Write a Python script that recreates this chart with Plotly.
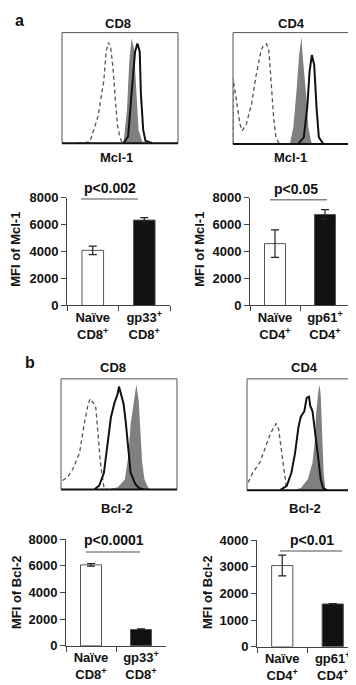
import plotly.graph_objects as go

# ---------------- data ----------------
# flow-cytometry histograms (x: % of axis width, y: % of axis height)
a_cd8_iso_x = [14, 24, 31, 36, 38, 40, 42, 44, 46, 48, 50, 52]
a_cd8_iso_y = [0, 1, 24, 56, 83, 91, 86, 68, 39, 15, 5, 0]
a_cd8_naive_x = [53, 56, 58, 60, 62, 64, 66, 69, 71]
a_cd8_naive_y = [0, 30, 74, 95, 86, 45, 12, 2, 0]
a_cd8_gp_x = [53, 57, 60, 63, 65, 67, 68, 70, 72, 78]
a_cd8_gp_y = [0, 6, 45, 83, 90, 83, 45, 12, 2, 0]

a_cd4_iso_x = [0, 0, 3, 6, 8, 11.5, 16, 20, 24, 26, 29, 31, 33, 35, 37, 40]
a_cd4_iso_y = [0, 59, 39, 18, 12, 18, 36, 62, 83, 88, 90, 83, 54, 24, 6, 0]
a_cd4_naive_x = [49, 52, 55, 57, 59, 60, 63, 65, 67.5, 69]
a_cd4_naive_y = [0, 15, 51, 80, 96, 80, 45, 15, 2, 0]
a_cd4_gp_x = [56, 61, 64, 66, 68, 70, 72, 74, 78]
a_cd4_gp_y = [0, 6, 33, 65, 80, 71, 33, 6, 0]

b_cd8_iso_x = [1.4, 5.7, 10, 16, 20, 23, 25, 28, 30, 32, 34, 36, 37, 40]
b_cd8_iso_y = [8, 11, 18, 33, 59, 75, 82, 78, 74, 51, 24, 9, 2, 0]
b_cd8_gp_x = [29, 33, 37, 40, 43, 46, 49, 50, 52, 54, 56, 58, 60, 64, 67.5, 72]
b_cd8_gp_y = [0, 3.5, 15, 39, 65, 78, 87, 93, 86, 77, 59, 33, 15, 5, 1, 0]
b_cd8_naive_x = [40, 49, 55, 58, 60, 63, 65, 67, 68.4, 70, 72, 75, 77]
b_cd8_naive_y = [0, 2, 9, 30, 59, 80, 95, 80, 51, 24, 9, 2, 0]

b_cd4_iso_x = [1, 5, 11, 15, 19, 22, 25, 27, 29, 31, 32.5, 34]
b_cd4_iso_y = [7, 16, 25, 37, 48, 55, 60, 55, 39, 25, 10, 0]
b_cd4_gp_x = [28, 34, 38, 41, 44, 46, 49, 51, 53, 54, 56, 59, 61, 63, 65, 69]
b_cd4_gp_y = [0, 4, 16, 33, 57, 66, 71, 83, 84, 76, 71, 48, 28, 10, 2, 0]
b_cd4_naive_x = [39, 46, 52, 56, 58, 59, 61, 62, 63, 64, 65.5, 67, 68]
b_cd4_naive_y = [0, 2, 10, 25, 45, 68, 89, 95, 86, 54, 16, 1, 0]

# bar charts
cats_cd8 = ["Naïve<br>CD8<sup>+</sup>", "gp33<sup>+</sup><br>CD8<sup>+</sup>"]
cats_cd4 = ["Naïve<br>CD4<sup>+</sup>", "gp61<sup>+</sup><br>CD4<sup>+</sup>"]
mcl1_cd8 = [4100, 6350]
mcl1_cd8_err = [320, 180]
mcl1_cd4 = [4600, 6770]
mcl1_cd4_err = [1020, 360]
bcl2_cd8 = [6080, 1230]
bcl2_cd8_err = [100, 40]
bcl2_cd4 = [3050, 1610]
bcl2_cd4_err = [390, 15]
pvals = ["p<0.002", "p<0.05", "p<0.0001", "p<0.01"]

# ---------------- layout helpers ----------------
W, H = 356, 685
FONT = "Liberation Sans, Arial, Helvetica, sans-serif"


def fx(p):
    return p / W


def fy(p):
    return 1 - p / H


fig = go.Figure()
shapes = []
annotations = []
layout = {}

hist_panels = [
    # (x0, x1, y0(top), y1(bottom)), iso, naive(gray), gp(black), right border
    ((54, 170, 18, 131), (a_cd8_iso_x, a_cd8_iso_y), (a_cd8_naive_x, a_cd8_naive_y), (a_cd8_gp_x, a_cd8_gp_y), True),
    ((225, 341, 18, 132), (a_cd4_iso_x, a_cd4_iso_y), (a_cd4_naive_x, a_cd4_naive_y), (a_cd4_gp_x, a_cd4_gp_y), True),
    ((53, 169, 372, 485), (b_cd8_iso_x, b_cd8_iso_y), (b_cd8_naive_x, b_cd8_naive_y), (b_cd8_gp_x, b_cd8_gp_y), True),
    ((239, 356, 372, 486), (b_cd4_iso_x, b_cd4_iso_y), (b_cd4_naive_x, b_cd4_naive_y), (b_cd4_gp_x, b_cd4_gp_y), False),
]

for i, (box, iso, naive, gp, rb) in enumerate(hist_panels, start=1):
    x0, x1, yt, yb = box
    xa = "x" if i == 1 else f"x{i}"
    ya = "y" if i == 1 else f"y{i}"
    layout["xaxis" if i == 1 else f"xaxis{i}"] = dict(
        domain=[fx(x0), fx(x1)], range=[0, 100], visible=False, anchor=ya)
    layout["yaxis" if i == 1 else f"yaxis{i}"] = dict(
        domain=[fy(yb), fy(yt)], range=[0, 100], visible=False, anchor=xa)
    fig.add_trace(go.Scatter(x=naive[0], y=naive[1], mode="lines", fill="tozeroy",
                             fillcolor="#808080", line=dict(width=0, color="#808080"),
                             xaxis=xa, yaxis=ya, hoverinfo="skip", showlegend=False))
    fig.add_trace(go.Scatter(x=iso[0], y=iso[1], mode="lines",
                             line=dict(width=1.3, color="#555", dash="4px,3px"),
                             xaxis=xa, yaxis=ya, hoverinfo="skip", showlegend=False))
    fig.add_trace(go.Scatter(x=gp[0], y=gp[1], mode="lines",
                             line=dict(width=2, color="#111"),
                             xaxis=xa, yaxis=ya, hoverinfo="skip", showlegend=False))
    # borders
    shapes.append(dict(type="line", xref="paper", yref="paper", x0=fx(x0), x1=fx(x1),
                       y0=fy(yt), y1=fy(yt), line=dict(color="#555", width=1)))
    shapes.append(dict(type="line", xref="paper", yref="paper", x0=fx(x0), x1=fx(x0),
                       y0=fy(yt), y1=fy(yb), line=dict(color="#555", width=1)))
    if rb:
        shapes.append(dict(type="line", xref="paper", yref="paper", x0=fx(x1), x1=fx(x1),
                           y0=fy(yt), y1=fy(yb), line=dict(color="#555", width=1)))
    shapes.append(dict(type="line", xref="paper", yref="paper", x0=fx(x0), x1=fx(x1),
                       y0=fy(yb), y1=fy(yb), line=dict(color="#111", width=2)))

bar_panels = [
    # box (x0, x1, ytop, ybottom), cats, vals, errs, ymax, dtick, ytitle, title x, p text, p line
    ((59, 162, 187, 297), cats_cd8, mcl1_cd8, mcl1_cd8_err, 8000, 2000, "MFI of Mcl-1", 8, 240,
     pvals[0], (102, 177), (73, 130, 188)),
    ((242, 342, 187, 297), cats_cd4, mcl1_cd4, mcl1_cd4_err, 8000, 2000, "MFI of Mcl-1", 192, 240,
     pvals[1], (288, 178), (262, 319, 189)),
    ((58, 158, 536, 645), cats_cd8, bcl2_cd8, bcl2_cd8_err, 8000, 2000, "MFI of Bcl-2", 8, 590,
     pvals[2], (106, 537), (78, 132, 549)),
    ((249, 350, 537, 646), cats_cd4, bcl2_cd4, bcl2_cd4_err, 4000, 1000, "MFI of Bcl-2", 199, 590,
     pvals[3], (304, 537), (272, 334, 548)),
]

tickfont = dict(family=FONT, size=13, color="#111", weight="bold")
for j, (box, cats, vals, errs, ymax, dt, ytitle, tx, ty, ptxt, ppos, pline) in enumerate(bar_panels, start=5):
    x0, x1, yt, yb = box
    xa, ya = f"x{j}", f"y{j}"
    layout[f"xaxis{j}"] = dict(domain=[fx(x0), fx(x1)], range=[-0.5, 1.5], anchor=ya,
                               type="category", showline=True, linecolor="#444", linewidth=1,
                               ticks="outside", tickson="boundaries", ticklen=5, tickcolor="#444",
                               tickfont=tickfont, showgrid=False, zeroline=False)
    layout[f"yaxis{j}"] = dict(domain=[fy(yb), fy(yt)], range=[0, ymax], anchor=xa,
                               showline=True, linecolor="#444", linewidth=1, ticks="outside",
                               ticklen=5, tickcolor="#444", dtick=dt, tick0=0,
                               tickfont=tickfont, showgrid=False, zeroline=False)
    fig.add_trace(go.Bar(x=cats, y=vals, width=0.42,
                         marker=dict(color=["white", "#111"], line=dict(color="#555", width=1)),
                         error_y=dict(type="data", array=errs, color="#222", thickness=1.2, width=4),
                         xaxis=xa, yaxis=ya, showlegend=False))
    annotations.append(dict(text=ytitle, x=fx(tx), y=fy(ty), xref="paper", yref="paper",
                            textangle=-90, showarrow=False, xanchor="center", yanchor="middle",
                            font=dict(family=FONT, size=13, color="#111", weight="bold")))
    annotations.append(dict(text=ptxt, x=fx(ppos[0]), y=fy(ppos[1]), xref="paper", yref="paper",
                            showarrow=False, xanchor="center", yanchor="middle",
                            font=dict(family=FONT, size=14, color="#111", weight="bold")))
    shapes.append(dict(type="line", xref="paper", yref="paper", x0=fx(pline[0]), x1=fx(pline[1]),
                       y0=fy(pline[2]), y1=fy(pline[2]), line=dict(color="#888", width=1.5)))

labels = [
    ("a", 11, 6, 16), ("b", 22, 355, 16),
    ("CD8", 110, 9, 13), ("CD4", 283, 9, 13),
    ("Mcl-1", 108, 146, 13), ("Mcl-1", 282, 146, 13),
    ("CD8", 105, 360, 13), ("CD4", 296, 360, 13),
    ("Bcl-2", 109, 505, 13), ("Bcl-2", 297, 505, 13),
]
for txt, x, y, s in labels:
    annotations.append(dict(text=txt, x=fx(x), y=fy(y), xref="paper", yref="paper",
                            showarrow=False, xanchor="center", yanchor="middle",
                            font=dict(family=FONT, size=s, color="#111", weight="bold")))

fig.update_layout(**layout)
fig.update_layout(width=W, height=H, margin=dict(l=0, r=0, t=0, b=0),
                  paper_bgcolor="white", plot_bgcolor="rgba(0,0,0,0)",
                  font=dict(family=FONT, color="#111"),
                  shapes=shapes, annotations=annotations, bargap=0.5, showlegend=False)

fig.write_html("out.html")
